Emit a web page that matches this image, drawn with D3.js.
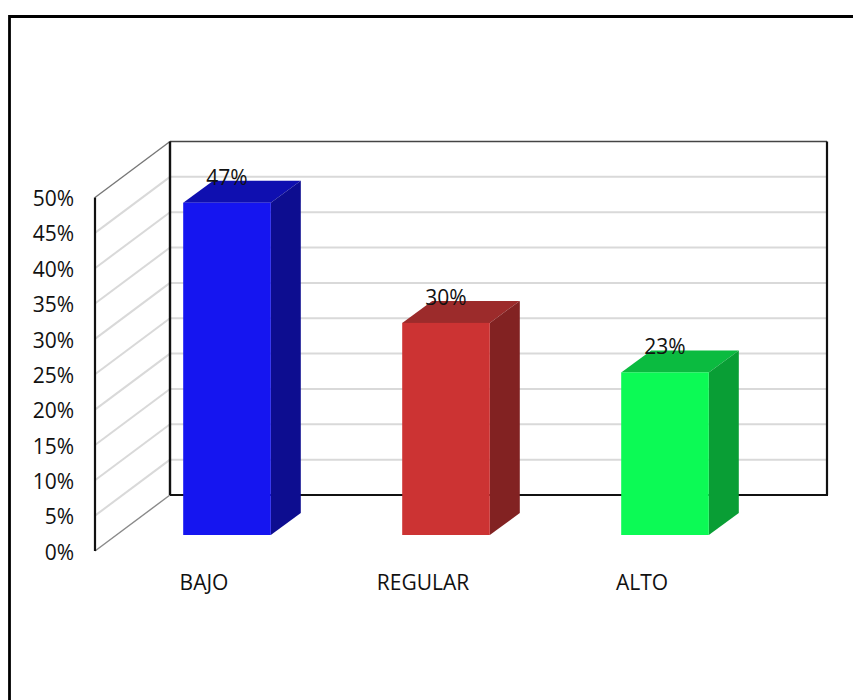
<!DOCTYPE html>
<html><head><meta charset="utf-8">
<script src="https://d3js.org/d3.v7.min.js"></script>
<style>html,body{margin:0;padding:0;background:#fff}svg{display:block}</style>
</head><body><div id="c"></div>
<script>
const categories = ["BAJO", "REGULAR", "ALTO"];
const values = [47, 30, 23];
const tickValues = [0, 5, 10, 15, 20, 25, 30, 35, 40, 45, 50];
const faceColors = ["#1515f0", "#cc3333", "#0cfa55"];
const topColors = ["#0f0fb0", "#9c2b2b", "#0bbb40"];
const sideColors = ["#0d0d90", "#822222", "#099e35"];

const W = 853, H = 700, font = "'Open Sans', sans-serif", fs = 21;
const svg = d3.select("#c").append("svg").attr("width", W).attr("height", H);

// frame (runs off the right and bottom of the picture)
svg.append("path").attr("d", `M9.5 ${H+5}V16.5H${W+5}`).attr("fill", "none").attr("stroke", "#000").attr("stroke-width", 2.8);

const y = d3.scaleLinear().domain([0, 50]).range([551, 197.5]);
const wall = {dx: 75, dy: -56, right: 827};
const barBase = {dy: -16};
const depth = {dx: 30, dy: -22};
const x = d3.scaleBand().domain(categories).range([117.5, 774.5]).paddingInner(0.6).paddingOuter(0.3);

const x0 = 95, bx = x0 + wall.dx;

const grid = svg.append("g");
tickValues.filter(t => t > 0 && t < 50).forEach(t => {
  grid.append("line").attr("x1", x0).attr("y1", y(t)).attr("x2", bx).attr("y2", y(t) + wall.dy)
    .attr("stroke", "#d9d9d9").attr("stroke-width", 2);
  grid.append("line").attr("x1", bx).attr("y1", y(t) + wall.dy).attr("x2", wall.right).attr("y2", y(t) + wall.dy)
    .attr("stroke", "#d9d9d9").attr("stroke-width", 2);
});

[0, 50].forEach(t => svg.append("line").attr("x1", x0).attr("y1", y(t)).attr("x2", bx).attr("y2", y(t) + wall.dy)
  .attr("stroke", t ? "#777" : "#8a8a8a").attr("stroke-width", 1.4));
svg.append("line").attr("x1", bx).attr("y1", y(50) + wall.dy).attr("x2", wall.right).attr("y2", y(50) + wall.dy).attr("stroke", "#444").attr("stroke-width", 1.4);
svg.append("line").attr("x1", bx).attr("y1", y(50) + wall.dy).attr("x2", bx).attr("y2", y(0) + wall.dy).attr("stroke", "#111").attr("stroke-width", 2.4);
svg.append("line").attr("x1", bx).attr("y1", y(0) + wall.dy).attr("x2", wall.right + 1).attr("y2", y(0) + wall.dy).attr("stroke", "#111").attr("stroke-width", 2.2);
svg.append("line").attr("x1", wall.right).attr("y1", y(50) + wall.dy).attr("x2", wall.right).attr("y2", y(0) + wall.dy).attr("stroke", "#111").attr("stroke-width", 2.2);
svg.append("line").attr("x1", x0).attr("y1", y(50)).attr("x2", x0).attr("y2", y(0)).attr("stroke", "#111").attr("stroke-width", 2.2);

const axis = d3.axisLeft(y).tickValues(tickValues).tickSize(0).tickPadding(0).tickFormat(d => d + "%");
const ag = svg.append("g").attr("transform", `translate(${x0 - 21},1)`).call(axis);
ag.select(".domain").remove();
ag.selectAll("text").attr("font-family", font).attr("font-size", fs).attr("fill", "#111").attr("dy", "0.34em");

const bars = svg.append("g").selectAll("g").data(categories).join("g");
bars.each(function(c, i) {
  const g = d3.select(this);
  const l = x(c), w = x.bandwidth(), r = l + w;
  const b = y(0) + barBase.dy, t = y(values[i]) + barBase.dy;
  g.append("polygon").attr("points", [[l, t], [r, t], [r + depth.dx, t + depth.dy], [l + depth.dx, t + depth.dy]].join(" ")).attr("fill", topColors[i]);
  g.append("polygon").attr("points", [[r, t], [r + depth.dx, t + depth.dy], [r + depth.dx, b + depth.dy], [r, b]].join(" ")).attr("fill", sideColors[i]);
  g.append("rect").attr("x", l).attr("y", t).attr("width", w).attr("height", b - t).attr("fill", faceColors[i]);
  g.append("text").attr("x", l + w / 2).attr("y", t - 18).attr("text-anchor", "middle")
    .attr("font-family", font).attr("font-size", fs).attr("fill", "#111").text(values[i] + "%");
  g.append("text").attr("x", l + w / 2 - 23).attr("y", 590).attr("text-anchor", "middle")
    .attr("font-family", font).attr("font-size", fs).attr("fill", "#111").text(c);
});
</script></body></html>
